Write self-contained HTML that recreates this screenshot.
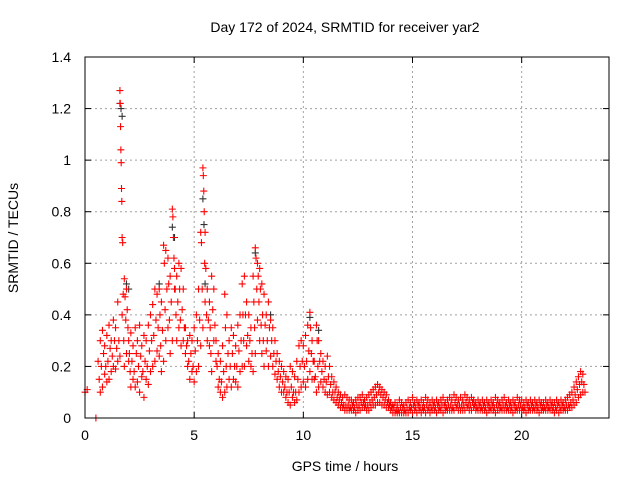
<!DOCTYPE html>
<html><head><meta charset="utf-8"><style>
html,body{margin:0;padding:0;background:#fff;}
svg{display:block;font-family:"Liberation Sans",sans-serif;}
</style></head><body>
<svg id="chart" width="640" height="480" viewBox="0 0 640 480">
<rect width="640" height="480" fill="#fff"/>
<text x="345" y="32" font-size="14" text-anchor="middle">Day 172 of 2024, SRMTID for receiver yar2</text>
<text transform="translate(18,238) rotate(-90)" font-size="14" text-anchor="middle">SRMTID / TECUs</text>
<text x="345" y="471" font-size="14" text-anchor="middle">GPS time / hours</text>
<g id="grid"></g>
<g id="ticks"></g>
<g id="pts"></g>
<rect x="85" y="57" width="524" height="361" fill="none" stroke="#000" stroke-width="1"/>
</svg>
<script>
const xTicks=[0,5,10,15,20];
const yTicks=[0,0.2,0.4,0.6,0.8,1,1.2,1.4];
const yTickLabels=["0","0.2","0.4","0.6","0.8","1","1.2","1.4"];
// rows: [hour, successive samples within the following 0.1 h...]
const redRows=[
[0,0.1,0.11],[0.5,0],[0.6,0.22,0.15,0.1],[0.7,0.3,0.2,0.12],[0.8,0.34,0.25,0.17],[0.9,0.28,0.2,0.14],[1.0,0.32,0.22,0.15],
[1.1,0.36,0.27,0.18],[1.2,0.3,0.24,0.2],[1.3,0.38,0.3,0.19],[1.4,0.35,0.27,0.22],[1.5,0.45,0.3,0.24],
[1.6,1.27,1.22,1.13,1.04,0.99,0.89,0.84,0.4],[1.7,0.7,0.68,0.48,0.3,0.2],[1.8,0.54,0.47,0.38,0.25],[1.9,0.5,0.42,0.35,0.22],
[2.0,0.3,0.25,0.18,0.12],[2.1,0.33,0.22,0.15],[2.2,0.28,0.18,0.12],[2.3,0.35,0.25,0.14],[2.4,0.3,0.2,0.1],[2.5,0.36,0.24,0.16],
[2.6,0.28,0.18,0.08],[2.7,0.32,0.22,0.15],[2.8,0.3,0.2,0.13],[2.9,0.36,0.26,0.18],[3.0,0.4,0.3,0.2],[3.1,0.44,0.32,0.22],
[3.2,0.5,0.38,0.26],[3.3,0.48,0.35,0.24],[3.4,0.5,0.4,0.28,0.18],[3.5,0.45,0.34,0.22],[3.6,0.67,0.6,0.42,0.3],[3.7,0.65,0.5,0.35],
[3.8,0.62,0.52,0.38,0.25],[3.9,0.55,0.45,0.3],[4.0,0.81,0.78,0.7,0.62,0.5],[4.1,0.58,0.5,0.4,0.3],[4.2,0.55,0.45,0.35],
[4.3,0.6,0.5,0.38,0.28],[4.4,0.58,0.42,0.3],[4.5,0.5,0.35,0.25],[4.6,0.35,0.28,0.2],[4.7,0.3,0.22,0.15],[4.8,0.32,0.25,0.18],
[4.9,0.3,0.2,0.14],[5.0,0.35,0.26,0.18],[5.1,0.4,0.3,0.2],[5.2,0.5,0.38,0.28],[5.3,0.72,0.68,0.5,0.35],[5.4,0.97,0.94,0.88,0.8,0.6,0.45],
[5.5,0.72,0.58,0.4,0.3],[5.6,0.5,0.38,0.28],[5.7,0.45,0.35,0.25,0.18],[5.8,0.55,0.42,0.3],[5.9,0.5,0.36,0.22],[6.0,0.3,0.2,0.12],
[6.1,0.25,0.15,0.1],[6.2,0.22,0.14,0.08],[6.3,0.28,0.18,0.1],[6.4,0.48,0.35,0.2,0.12],[6.5,0.4,0.25,0.15],[6.6,0.3,0.2,0.12],
[6.7,0.35,0.25,0.15],[6.8,0.32,0.2,0.14],[6.9,0.28,0.2,0.12],[7.0,0.36,0.26,0.18],[7.1,0.4,0.3,0.2],[7.2,0.52,0.4,0.3,0.2],
[7.3,0.55,0.4,0.28],[7.4,0.45,0.32,0.22],[7.5,0.4,0.3,0.2],[7.6,0.35,0.25,0.18],[7.7,0.55,0.45,0.35,0.25],[7.8,0.66,0.62,0.5,0.38],
[7.9,0.6,0.55,0.45,0.3],[8.0,0.58,0.5,0.36,0.25],[8.1,0.52,0.4,0.3,0.2],[8.2,0.48,0.36,0.26],[8.3,0.4,0.3,0.2],[8.4,0.45,0.35,0.24],
[8.5,0.38,0.3,0.2],[8.6,0.35,0.25,0.17],[8.7,0.3,0.22,0.15],[8.8,0.25,0.18,0.12],[8.9,0.22,0.16,0.1],[9.0,0.2,0.14,0.1],
[9.1,0.18,0.12,0.08],[9.2,0.16,0.1,0.06],[9.3,0.15,0.1,0.05],[9.4,0.2,0.12,0.08],[9.5,0.18,0.1,0.06],[9.6,0.16,0.1,0.07],
[9.7,0.22,0.15,0.1],[9.8,0.28,0.2,0.12],[9.9,0.3,0.22,0.14],[10.0,0.28,0.2,0.12],[10.1,0.32,0.22,0.15],[10.2,0.36,0.26,0.18],
[10.3,0.41,0.35,0.25,0.15],[10.4,0.3,0.22,0.15],[10.5,0.22,0.16,0.1],[10.6,0.36,0.3,0.2,0.12],[10.7,0.3,0.22,0.14],[10.8,0.25,0.18,0.12],
[10.9,0.22,0.15,0.1],[11.0,0.2,0.14,0.09],[11.1,0.24,0.16,0.1],[11.2,0.2,0.13,0.08],[11.3,0.16,0.1,0.07],[11.4,0.14,0.1,0.06],
[11.5,0.12,0.08,0.05],[11.6,0.1,0.07,0.04],[11.7,0.09,0.06,0.04],[11.8,0.08,0.05,0.03],[11.9,0.09,0.05,0.03],[12.0,0.08,0.05,0.03],
[12.1,0.07,0.04,0.03],[12.2,0.07,0.05,0.03],[12.3,0.06,0.04,0.02],[12.4,0.07,0.05,0.03],[12.5,0.08,0.05,0.03],[12.6,0.08,0.06,0.04],
[12.7,0.09,0.06,0.04],[12.8,0.07,0.05,0.03],[12.9,0.08,0.05,0.03],[13.0,0.09,0.06,0.04],[13.1,0.1,0.07,0.05],[13.2,0.11,0.08,0.05],
[13.3,0.12,0.09,0.06],[13.4,0.13,0.1,0.06],[13.5,0.12,0.09,0.05],[13.6,0.11,0.08,0.05],[13.7,0.1,0.07,0.04],[13.8,0.09,0.06,0.04],
[13.9,0.07,0.05,0.03],[14.0,0.06,0.04,0.02],[14.1,0.05,0.04,0.02],[14.2,0.06,0.03,0.02],[14.3,0.05,0.03,0.02],[14.4,0.07,0.04,0.02],
[14.5,0.06,0.04,0.02],[14.6,0.05,0.03,0.02],[14.7,0.06,0.04,0.02],[14.8,0.07,0.04,0.03],[14.9,0.06,0.04,0.02],[15.0,0.08,0.05,0.03],
[15.1,0.06,0.04,0.02],[15.2,0.07,0.05,0.03],[15.3,0.06,0.04,0.02],[15.4,0.07,0.04,0.03],[15.5,0.06,0.04,0.02],[15.6,0.08,0.05,0.03],
[15.7,0.07,0.04,0.02],[15.8,0.06,0.04,0.03],[15.9,0.07,0.05,0.03],[16.0,0.06,0.04,0.02],[16.1,0.07,0.05,0.03],[16.2,0.06,0.04,0.03],
[16.3,0.07,0.05,0.02],[16.4,0.08,0.05,0.03],[16.5,0.06,0.04,0.03],[16.6,0.07,0.05,0.03],[16.7,0.08,0.05,0.03],[16.8,0.07,0.04,0.03],
[16.9,0.09,0.06,0.04],[17.0,0.08,0.05,0.03],[17.1,0.07,0.05,0.03],[17.2,0.08,0.05,0.03],[17.3,0.07,0.05,0.03],[17.4,0.09,0.06,0.04],
[17.5,0.08,0.05,0.03],[17.6,0.07,0.05,0.03],[17.7,0.08,0.06,0.04],[17.8,0.07,0.05,0.03],[17.9,0.06,0.04,0.03],[18.0,0.07,0.05,0.03],
[18.1,0.06,0.04,0.03],[18.2,0.07,0.05,0.03],[18.3,0.06,0.04,0.02],[18.4,0.07,0.05,0.03],[18.5,0.06,0.04,0.03],[18.6,0.07,0.05,0.03],
[18.7,0.06,0.04,0.02],[18.8,0.08,0.05,0.03],[18.9,0.07,0.05,0.03],[19.0,0.06,0.04,0.03],[19.1,0.07,0.05,0.03],[19.2,0.08,0.05,0.03],
[19.3,0.06,0.04,0.03],[19.4,0.07,0.05,0.03],[19.5,0.06,0.04,0.02],[19.6,0.07,0.05,0.03],[19.7,0.06,0.04,0.03],[19.8,0.08,0.05,0.03],
[19.9,0.07,0.05,0.03],[20.0,0.07,0.04,0.03],[20.1,0.06,0.04,0.02],[20.2,0.07,0.05,0.03],[20.3,0.06,0.04,0.03],[20.4,0.07,0.05,0.03],
[20.5,0.06,0.04,0.03],[20.6,0.07,0.05,0.03],[20.7,0.06,0.04,0.02],[20.8,0.07,0.05,0.03],[20.9,0.06,0.04,0.03],[21.0,0.06,0.04,0.03],
[21.1,0.07,0.05,0.03],[21.2,0.06,0.04,0.03],[21.3,0.07,0.05,0.03],[21.4,0.06,0.04,0.02],[21.5,0.06,0.04,0.03],[21.6,0.07,0.05,0.02],
[21.7,0.06,0.04,0.03],[21.8,0.07,0.05,0.03],[21.9,0.06,0.04,0.03],[22.0,0.07,0.05,0.03],[22.1,0.08,0.05,0.04],[22.2,0.09,0.06,0.04],
[22.3,0.1,0.07,0.05],[22.4,0.12,0.09,0.06],[22.5,0.14,0.11,0.08],[22.6,0.16,0.13,0.09],[22.7,0.18,0.14,0.1],[22.8,0.17,0.13,0.1]
];
const blackRows=[[1.6,1.22,1.2,1.17],[1.9,0.52,0.5],[3.4,0.52],[4.0,0.74,0.7],[5.4,0.85,0.75,0.52],[7.8,0.64],[8.5,0.4],[10.3,0.39],[10.7,0.34]];
const X0=85,X1=609,Y0=418,Y1=57,XMAX=24,YMAX=1.4,STEP=0.1;
const sx=v=>X0+(X1-X0)*v/XMAX, sy=v=>Y0-(Y0-Y1)*v/YMAX;
const NS="http://www.w3.org/2000/svg";
const grid=document.getElementById('grid'),ticks=document.getElementById('ticks'),pts=document.getElementById('pts');
function mk(tag,attrs,parent){const e=document.createElementNS(NS,tag);for(const k in attrs)e.setAttribute(k,attrs[k]);parent.appendChild(e);return e;}
xTicks.forEach(v=>{const x=sx(v);
 if(v>0){const l=mk('line',{x1:x,y1:Y0,x2:x,y2:Y1,stroke:'#a0a0a0','stroke-dasharray':'2,3'},grid);
 }
 mk('line',{x1:x,y1:Y0,x2:x,y2:Y0-6,stroke:'#000'},ticks);mk('line',{x1:x,y1:Y1,x2:x,y2:Y1+6,stroke:'#000'},ticks);
 const t=mk('text',{x:x,y:Y0+22,'font-size':14,'text-anchor':'middle'},ticks);t.textContent=v;
 });
yTicks.forEach((v,i)=>{const y=sy(v);
 if(v>0&&v<YMAX){const l=mk('line',{x1:X0,y1:y,x2:X1,y2:y,stroke:'#a0a0a0','stroke-dasharray':'2,3'},grid);
 }
 mk('line',{x1:X0,y1:y,x2:X0+6,y2:y,stroke:'#000'},ticks);mk('line',{x1:X1,y1:y,x2:X1-6,y2:y,stroke:'#000'},ticks);
 const t=mk('text',{x:X0-14,y:y+5,'font-size':14,'text-anchor':'end'},ticks);t.textContent=yTickLabels[i];
 });
function plot(rows,color,name){let d='';
 rows.forEach(r=>{const n=r.length-1;for(let i=1;i<r.length;i++){
  const t=r[0]+(n>1?STEP*(i-1)/(n-1):0);const x=sx(t),y=sy(r[i]);d+=`M${x-3.5},${y}h7M${x},${y-3.5}v7`;}});
 const p=mk('path',{d:d,stroke:color,'stroke-width':1.1,fill:'none'},pts);
 }
plot(blackRows,'#333','black-series-points');
plot(redRows,'#ff0000','red-series-points');
</script>
</body></html>
